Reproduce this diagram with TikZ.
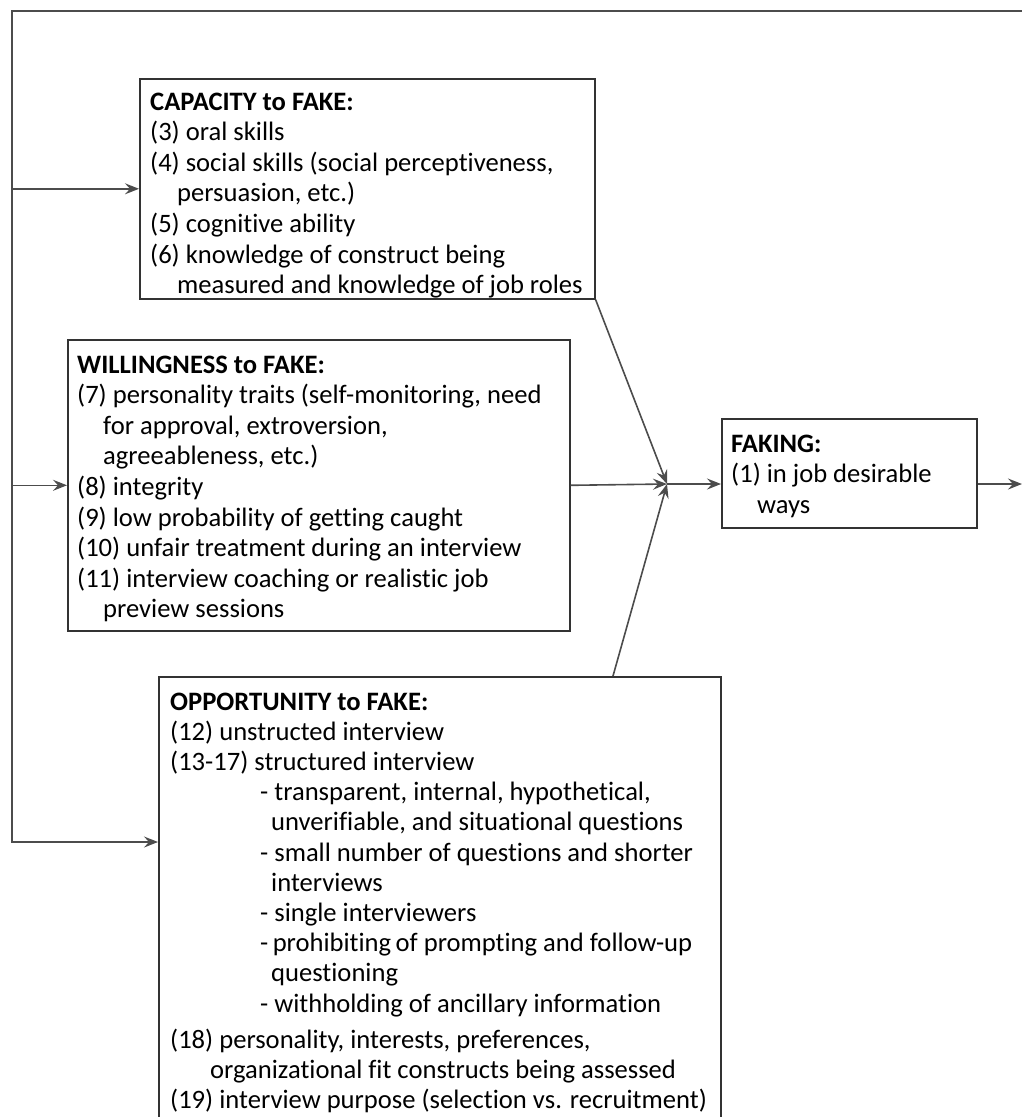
\documentclass[tikz,border=0pt]{standalone}
\usepackage{fontspec}
\setmainfont{Carlito}[Ligatures=NoCommon]
\usetikzlibrary{arrows.meta}
\newcommand{\boxtext}[1]{\parbox[t]{620pt}{\raggedright #1}}
\begin{document}
\begin{tikzpicture}[x=1pt,y=-1pt,
  box/.style={draw=black!80, line width=1.6pt, rectangle, inner sep=0pt, anchor=north west},
  txt/.style={anchor=base west, inner sep=0pt, font=\fontsize{26.6}{30.6}\selectfont},
  conn/.style={draw=black!70, line width=1.6pt},
  arr/.style={conn, -{Stealth[length=14pt,width=11pt,inset=5pt]}}]
\useasboundingbox (0,0) rectangle (1022,1117);
% boxes
\node[box, minimum width=455pt, minimum height=220pt] (cap) at (139,78) {};
\node[box, minimum width=502pt, minimum height=291pt] (wil) at (67,339) {};
\node[box, minimum width=562pt, minimum height=470pt] (opp) at (158,676) {};
\node[box, minimum width=255pt, minimum height=109pt] (fak) at (721,418) {};
% texts
\node[txt] (capt) at (150,110) {\boxtext{\textbf{CAPACITY to FAKE:}\\
(3) oral skills\\
(4) social skills (social perceptiveness,\\
\hspace*{27pt}persuasion, etc.)\\
(5) cognitive ability\\
(6) knowledge of construct being\\
\hspace*{27pt}measured and knowledge of job roles}};
\node[txt] (wilt) at (77,373) {\boxtext{\textbf{WILLINGNESS to FAKE:}\\
(7) personality traits (self-monitoring, need\\
\hspace*{26pt}for approval, extroversion,\\
\hspace*{26pt}agreeableness, etc.)\\
(8) integrity\\
(9) low probability of getting caught\\
(10) unfair treatment during an interview\\
(11) interview coaching or realistic job\\
\hspace*{26pt}preview sessions}};
\node[txt] (fakt) at (731,452) {\boxtext{\textbf{FAKING:}\\
(1) in job desirable\\
\hspace*{26pt}ways}};
\node[txt, font=\fontsize{26.6}{30.2}\selectfont] (oppt) at (170,710) {\boxtext{\textbf{OPPORTUNITY to FAKE:}\\
(12) unstructed interview\\
(13-17) structured interview\\
\hspace*{90pt}- transparent, internal, hypothetical,\\
\hspace*{101pt}unverifiable, and situational questions\\
\hspace*{90pt}- small number of questions and shorter\\
\hspace*{101pt}interviews\\
\hspace*{90pt}- single interviewers\\
\hspace*{90pt}-\,prohibiting\,of prompting and follow-up\\
\hspace*{101pt}questioning\\
\hspace*{90pt}- withholding of ancillary information\\[6.5pt]
(18) personality, interests, preferences,\\
\hspace*{40pt}organizational fit constructs being assessed\\[-1pt]
(19) interview purpose (selection vs. recruitment)}};
% frame coordinates
\coordinate (tr) at (1022,11);
\coordinate (tl) at (12,11);
\coordinate (bl) at (12,842);
\coordinate (conv) at (667,484);
\coordinate (oppout) at (613,676);
\coordinate (out) at (1022,484);
% connectors
\draw[arr] (tr) -- (tl) -- (bl) -- (bl -| opp.west);
\draw[arr] (tl |- cap.west) -- (cap.west);
\draw[arr] (tl |- wil.east) -- (wil.west);
\draw[arr] (cap.south east) -- (conv);
\draw[arr] (wil.east) -- (conv);
\draw[arr] (oppout) -- (conv);
\draw[arr] (conv) -- (conv -| fak.west);
\draw[arr] (conv -| fak.east) -- (out);
\end{tikzpicture}
\end{document}
